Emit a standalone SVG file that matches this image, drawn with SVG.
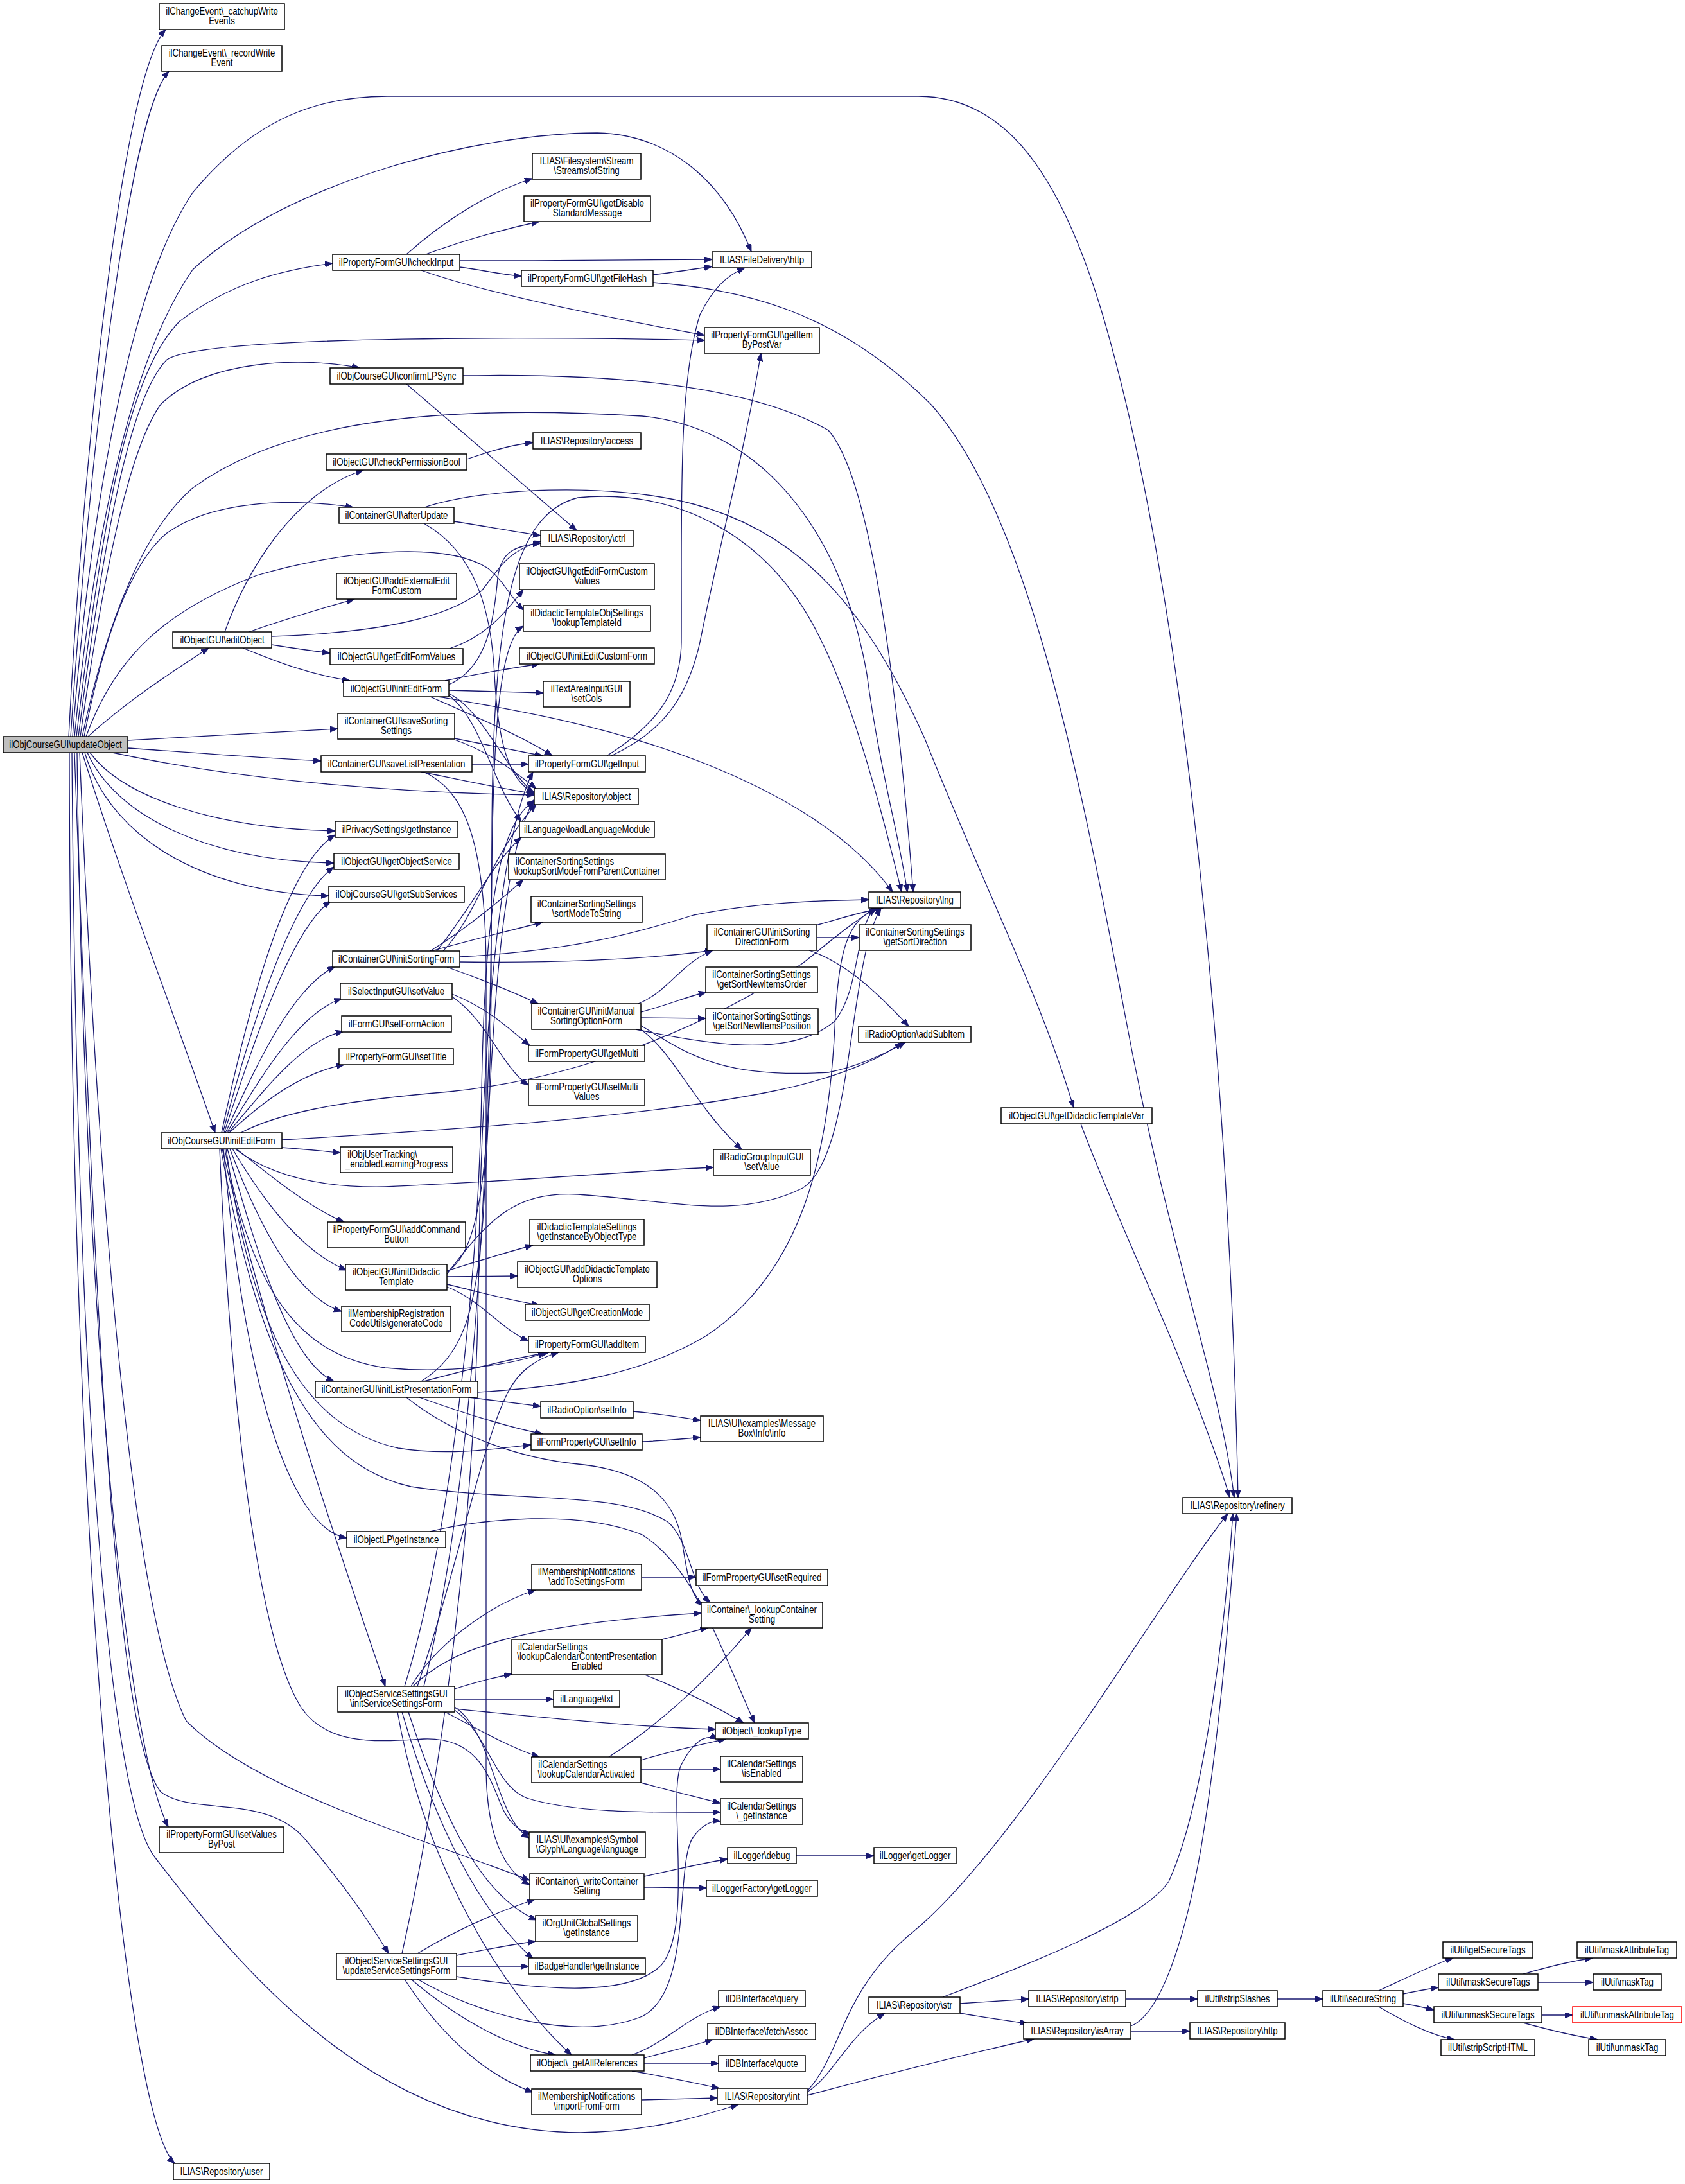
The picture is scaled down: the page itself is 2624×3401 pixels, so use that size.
<svg xmlns="http://www.w3.org/2000/svg" width="2624" height="3401" viewBox="0 0 2624 3401">
<style>
.n rect{fill:#fff;stroke:#000;stroke-width:1.5}
.r rect{fill:#bfbfbf}
.x rect{stroke:#f00}
.n text{font-family:"Liberation Sans",Arial,Helvetica,sans-serif;font-size:16px;fill:#000;text-anchor:middle}
.n text.l{text-anchor:start}
.e path{fill:none;stroke:#191970;stroke-width:1.3;marker-end:url(#a)}
</style>
<defs>
<marker id="a" markerWidth="13" markerHeight="10" refX="12" refY="4.5" orient="auto" markerUnits="userSpaceOnUse"><path d="M0,0 L12,4.5 L0,9 z" fill="#191970" stroke="#191970" stroke-width="1"/></marker>
</defs>
<rect width="2624" height="3401" fill="#fff"/>
<g id="edges" class="e">
<path d="M107,1147 C130,700 190,120 258,46"/>
<path d="M110,1147 C140,700 200,180 263,111"/>
<path d="M113,1147 C140,800 200,450 300,300 C400,180 500,150 603,150 L1430,150 C1560,150 1650,260 1720,500 C1850,950 1915,1700 1928,2332"/>
<path d="M116,1147 C150,800 210,550 300,420 C450,280 750,207 930,207 C1050,210 1130,290 1170,392"/>
<path d="M119,1147 C160,800 200,580 280,500 C360,440 440,420 518,410"/>
<path d="M122,1147 C160,850 200,620 260,560 C320,520 900,525 1097,530"/>
<path d="M125,1147 C160,900 200,700 250,630 C320,560 470,555 560,573"/>
<path d="M128,1147 C170,950 230,820 300,760 C450,650 700,630 1000,648 C1180,665 1310,820 1350,1050 C1370,1200 1400,1300 1413,1389"/>
<path d="M131,1147 C160,1000 200,880 260,830 C330,780 450,775 550,790"/>
<path d="M134,1147 C180,1020 260,950 400,896 C520,860 690,840 760,885 C785,905 795,930 815,950"/>
<path d="M137,1147 C200,1090 270,1045 325,1009"/>
<path d="M199,1153 C300,1148 420,1140 526,1135"/>
<path d="M199,1165 C300,1172 400,1180 500,1185"/>
<path d="M175,1172 C400,1220 650,1235 832,1238"/>
<path d="M140,1172 C190,1240 330,1290 522,1294"/>
<path d="M136,1172 C180,1270 320,1340 520,1344"/>
<path d="M132,1172 C170,1300 310,1390 512,1395"/>
<path d="M128,1172 C200,1400 290,1630 335,1764"/>
<path d="M124,1172 C150,1800 200,2500 290,2680 C400,2790 650,2860 825,2928"/>
<path d="M120,1172 C130,2000 190,2700 262,2845"/>
<path d="M116,1172 C150,2100 180,2700 250,2790 C300,2830 420,2790 480,2870 C540,2940 580,3000 605,3042"/>
<path d="M112,1172 C120,2200 170,2800 241,2892 C400,3100 600,3320 904,3321 C1000,3320 1080,3300 1150,3277"/>
<path d="M108,1172 C110,2500 200,3300 272,3369"/>
<path d="M633,396 C690,345 760,300 829,278"/>
<path d="M663,396 C720,375 780,358 840,345"/>
<path d="M716,406 C850,406 1000,405 1109,404"/>
<path d="M716,416 C750,420 780,428 812,430"/>
<path d="M656,421 C750,455 950,495 1097,522"/>
<path d="M1017,428 C1050,424 1080,419 1109,415"/>
<path d="M1017,440 C1150,450 1300,480 1450,630 C1600,800 1680,1200 1750,1570 C1820,1950 1900,2150 1922,2332"/>
<path d="M721,585 C900,582 1150,590 1290,670 C1360,750 1400,1100 1422,1389"/>
<path d="M633,598 L898,826"/>
<path d="M350,984 C380,900 450,770 566,732"/>
<path d="M388,984 C450,962 500,948 552,933"/>
<path d="M423,1004 C460,1010 490,1014 514,1017"/>
<path d="M378,1009 C430,1030 480,1050 545,1060"/>
<path d="M423,991 C600,985 700,960 750,920 C775,890 785,860 842,843"/>
<path d="M727,715 C770,700 800,692 830,689"/>
<path d="M707,812 C760,820 800,828 842,834"/>
<path d="M661,790 C750,760 950,750 1080,785 C1250,830 1350,950 1440,1150 C1540,1400 1620,1550 1672,1725"/>
<path d="M660,815 C740,860 765,950 770,1050 C775,1150 790,1215 832,1235"/>
<path d="M700,1010 C760,990 790,950 815,918"/>
<path d="M693,1060 C750,1048 800,1040 840,1034"/>
<path d="M699,1075 C750,1076 800,1078 846,1079"/>
<path d="M699,1066 C760,1040 770,960 775,900 C780,860 800,850 842,846"/>
<path d="M699,1080 C740,1100 770,1160 800,1200 C815,1220 825,1230 832,1234"/>
<path d="M699,1083 C750,1120 770,1230 812,1279"/>
<path d="M683,1085 C800,1105 950,1130 1100,1190 C1250,1250 1340,1320 1390,1389"/>
<path d="M670,1085 C750,1120 820,1150 860,1177"/>
<path d="M708,1150 C760,1160 810,1170 845,1177"/>
<path d="M708,1152 C760,1170 800,1200 835,1228"/>
<path d="M735,1190 L823,1190"/>
<path d="M656,1202 C720,1215 780,1228 832,1236"/>
<path d="M660,1202 C720,1230 755,1300 757,1500 L757,2750 C757,2850 780,2910 825,2935"/>
<path d="M945,1177 C1020,1130 1060,1080 1061,1000 C1062,800 1055,600 1090,490 C1110,450 1130,430 1160,417"/>
<path d="M952,1177 C1030,1140 1070,1090 1090,1000 C1120,850 1160,700 1185,550"/>
<path d="M670,1481 C720,1450 770,1410 815,1370"/>
<path d="M672,1481 C740,1462 800,1448 845,1436"/>
<path d="M716,1490 C900,1480 1000,1450 1080,1425 C1180,1405 1280,1402 1353,1401"/>
<path d="M716,1498 C850,1500 1000,1495 1110,1480"/>
<path d="M696,1506 C750,1525 800,1545 838,1563"/>
<path d="M690,1481 C740,1430 770,1320 835,1253"/>
<path d="M680,1481 C730,1420 770,1340 812,1304"/>
<path d="M704,1548 C760,1570 790,1600 825,1628"/>
<path d="M704,1552 C760,1590 780,1660 823,1690"/>
<path d="M998,1576 C1040,1565 1070,1552 1100,1545"/>
<path d="M998,1585 L1099,1586"/>
<path d="M994,1563 C1040,1545 1060,1500 1110,1480"/>
<path d="M990,1603 C1100,1625 1230,1650 1300,1590 C1340,1540 1330,1450 1362,1414"/>
<path d="M998,1597 C1070,1640 1120,1680 1290,1670 C1340,1660 1380,1640 1410,1623"/>
<path d="M998,1603 C1050,1640 1080,1720 1155,1790"/>
<path d="M1270,1441 C1310,1430 1340,1420 1375,1414"/>
<path d="M1272,1460 L1338,1460"/>
<path d="M1260,1480 C1320,1500 1370,1550 1415,1598"/>
<path d="M345,1764 C380,1600 440,1350 522,1300"/>
<path d="M347,1764 C385,1620 450,1400 520,1350"/>
<path d="M349,1764 C390,1640 450,1450 515,1403"/>
<path d="M351,1764 C390,1680 450,1540 522,1505"/>
<path d="M353,1764 C400,1690 460,1580 532,1555"/>
<path d="M355,1764 C410,1700 470,1620 535,1606"/>
<path d="M357,1764 C410,1715 470,1670 536,1658"/>
<path d="M439,1787 C480,1790 505,1793 530,1795"/>
<path d="M368,1789 C420,1830 480,1880 536,1903"/>
<path d="M362,1789 C410,1870 470,1950 540,1978"/>
<path d="M358,1789 C400,1900 460,2020 532,2042"/>
<path d="M354,1789 C400,1950 450,2120 520,2151"/>
<path d="M350,1789 C390,2000 460,2110 600,2130 C700,2140 800,2125 850,2106"/>
<path d="M352,1789 C390,2050 460,2220 620,2255 C700,2268 780,2255 827,2250"/>
<path d="M348,1789 C380,2150 450,2380 540,2395"/>
<path d="M346,1789 C420,2100 540,2450 600,2626"/>
<path d="M344,1789 C400,2100 480,2280 640,2315 C800,2340 960,2320 1040,2370 C1075,2400 1075,2470 1106,2495"/>
<path d="M366,1789 C420,1830 500,1850 600,1848 C800,1840 1000,1822 1111,1818"/>
<path d="M439,1775 C700,1760 1000,1740 1200,1700 C1300,1680 1370,1650 1405,1623"/>
<path d="M375,1764 C430,1735 520,1715 700,1700 C900,1680 1100,1600 1250,1500 C1300,1460 1335,1430 1366,1414"/>
<path d="M342,1789 C360,2200 400,2550 469,2659 C510,2720 590,2712 660,2708 C740,2705 760,2760 780,2810 C790,2835 805,2850 826,2856"/>
<path d="M696,1979 C740,1965 790,1950 830,1939"/>
<path d="M696,1988 L806,1987"/>
<path d="M696,2000 C740,2010 790,2025 840,2032"/>
<path d="M696,2004 C750,2025 780,2070 823,2088"/>
<path d="M696,1980 C750,1950 765,1800 765,1500 C765,1150 775,1000 815,975"/>
<path d="M696,1984 C760,1900 800,1855 900,1860 C1050,1870 1150,1900 1250,1850 C1330,1800 1320,1500 1372,1414"/>
<path d="M660,2151 C720,2135 800,2115 855,2106"/>
<path d="M730,2176 C780,2182 810,2186 842,2190"/>
<path d="M653,2176 C720,2200 790,2222 845,2233"/>
<path d="M633,2176 C700,2230 800,2270 900,2280 C1000,2290 1050,2330 1062,2400 C1070,2450 1075,2485 1094,2500"/>
<path d="M744,2168 C880,2160 1000,2140 1100,2080 C1250,1980 1290,1800 1300,1600 C1305,1480 1320,1430 1368,1414"/>
<path d="M656,2151 C720,2110 740,2050 752,1900 C765,1700 770,1350 832,1245"/>
<path d="M986,2198 C1030,2202 1060,2207 1091,2212"/>
<path d="M1000,2245 C1040,2243 1065,2241 1091,2238"/>
<path d="M670,2385 C750,2365 900,2350 1000,2390 C1080,2440 1120,2560 1175,2683"/>
<path d="M999,2456 L1084,2456"/>
<path d="M708,2630 C740,2620 770,2612 797,2607"/>
<path d="M708,2646 L862,2646"/>
<path d="M708,2661 C850,2675 1000,2690 1114,2693"/>
<path d="M693,2666 C740,2690 790,2720 840,2736"/>
<path d="M708,2663 C760,2700 770,2780 820,2800 C900,2825 1020,2822 1122,2822"/>
<path d="M708,2658 C770,2700 770,2830 824,2862"/>
<path d="M636,2666 C680,2800 740,2950 836,2990"/>
<path d="M626,2666 C680,2850 750,2980 830,3050"/>
<path d="M619,2666 C660,2900 780,3100 890,3200"/>
<path d="M640,2626 C680,2560 760,2500 834,2476"/>
<path d="M643,2626 C700,2570 800,2530 1092,2512"/>
<path d="M630,2626 C700,2400 745,2000 750,1700 C755,1400 780,1280 832,1247"/>
<path d="M650,2626 C710,2450 750,2250 790,2170 C810,2130 840,2115 870,2106"/>
<path d="M660,2626 C740,2300 765,1800 766,1300 C767,950 800,800 900,775 C1050,760 1200,830 1280,1000 C1330,1100 1370,1250 1404,1389"/>
<path d="M650,3042 C720,3000 780,2975 833,2958"/>
<path d="M711,3045 C760,3035 800,3028 834,3023"/>
<path d="M711,3062 L823,3062"/>
<path d="M711,3078 C850,3100 980,3110 1030,3060 C1080,3000 1040,2800 1060,2750 C1080,2710 1100,2700 1118,2708"/>
<path d="M650,3082 C750,3140 900,3180 1000,3140 C1080,3100 1050,2900 1080,2860 C1095,2840 1110,2835 1122,2836"/>
<path d="M640,3082 C720,3150 800,3190 865,3200"/>
<path d="M630,3082 C680,3160 750,3230 830,3258"/>
<path d="M626,3042 C680,2800 740,2400 745,2000 C750,1600 780,1300 830,1202"/>
<path d="M1031,2553 C1060,2546 1080,2540 1102,2535"/>
<path d="M1004,2608 C1060,2630 1120,2660 1158,2683"/>
<path d="M948,2736 C1020,2690 1100,2620 1170,2535"/>
<path d="M998,2741 C1050,2725 1100,2715 1130,2708"/>
<path d="M998,2755 L1122,2755"/>
<path d="M998,2776 C1050,2790 1090,2800 1122,2808"/>
<path d="M1003,2922 C1060,2910 1100,2900 1133,2895"/>
<path d="M1003,2939 L1100,2940"/>
<path d="M1240,2890 L1361,2890"/>
<path d="M984,3200 C1040,3180 1070,3140 1122,3125"/>
<path d="M1003,3205 C1050,3192 1090,3183 1110,3176"/>
<path d="M1003,3213 L1119,3213"/>
<path d="M984,3225 C1040,3235 1090,3245 1120,3252"/>
<path d="M999,3270 L1117,3267"/>
<path d="M1257,3258 C1300,3230 1320,3170 1378,3135"/>
<path d="M1257,3263 C1380,3230 1500,3200 1610,3175"/>
<path d="M1258,3255 C1310,3200 1310,3100 1420,3010 C1580,2880 1800,2500 1912,2357"/>
<path d="M1495,3120 L1602,3113"/>
<path d="M1495,3135 C1540,3143 1580,3148 1600,3151"/>
<path d="M1468,3110 C1600,3060 1780,2990 1820,2930 C1880,2800 1910,2500 1920,2357"/>
<path d="M1761,3163 L1853,3163"/>
<path d="M1761,3155 C1800,3140 1840,3050 1870,2880 C1900,2700 1915,2500 1926,2357"/>
<path d="M1753,3113 L1865,3113"/>
<path d="M1989,3113 L2060,3113"/>
<path d="M2147,3100 C2190,3080 2230,3060 2263,3049"/>
<path d="M2185,3105 C2210,3100 2225,3097 2240,3095"/>
<path d="M2185,3120 C2205,3123 2220,3127 2233,3130"/>
<path d="M2147,3125 C2190,3150 2230,3170 2265,3176"/>
<path d="M2372,3074 C2420,3060 2460,3052 2480,3049"/>
<path d="M2395,3087 L2481,3087"/>
<path d="M2401,3138 L2449,3138"/>
<path d="M2372,3150 C2420,3163 2460,3172 2488,3176"/>
<path d="M1683,1750 C1720,1850 1780,1980 1830,2100 C1870,2200 1900,2280 1915,2332"/>
</g>
<g id="n0" class="n r"><rect x="5" y="1147" width="194" height="25"/><text transform="translate(102,0) scale(.83,1)" y="1165">ilObjCourseGUI\updateObject</text></g>
<g id="n1" class="n"><rect x="248" y="6" width="195" height="40"/><text transform="translate(345.5,0) scale(.83,1)"><tspan x="0" y="23">ilChangeEvent\_catchupWrite</tspan><tspan x="0" y="38">Events</tspan></text></g>
<g id="n2" class="n"><rect x="252" y="71" width="187" height="40"/><text transform="translate(345.5,0) scale(.83,1)"><tspan x="0" y="88">ilChangeEvent\_recordWrite</tspan><tspan x="0" y="103">Event</tspan></text></g>
<g id="n3" class="n"><rect x="1842" y="2332" width="170" height="25"/><text transform="translate(1927,0) scale(.83,1)" y="2350">ILIAS\Repository\refinery</text></g>
<g id="n4" class="n"><rect x="1109" y="392" width="155" height="25"/><text transform="translate(1186.5,0) scale(.83,1)" y="410">ILIAS\FileDelivery\http</text></g>
<g id="n5" class="n"><rect x="518" y="396" width="198" height="25"/><text transform="translate(617,0) scale(.83,1)" y="414">ilPropertyFormGUI\checkInput</text></g>
<g id="n6" class="n"><rect x="829" y="239" width="169" height="40"/><text transform="translate(913.5,0) scale(.83,1)"><tspan x="0" y="256">ILIAS\Filesystem\Stream</tspan><tspan x="0" y="271">\Streams\ofString</tspan></text></g>
<g id="n7" class="n"><rect x="816" y="305" width="197" height="40"/><text transform="translate(914.5,0) scale(.83,1)"><tspan x="0" y="322">ilPropertyFormGUI\getDisable</tspan><tspan x="0" y="337">StandardMessage</tspan></text></g>
<g id="n8" class="n"><rect x="812" y="421" width="205" height="25"/><text transform="translate(914.5,0) scale(.83,1)" y="439">ilPropertyFormGUI\getFileHash</text></g>
<g id="n9" class="n"><rect x="1097" y="510" width="179" height="40"/><text transform="translate(1186.5,0) scale(.83,1)"><tspan x="0" y="527">ilPropertyFormGUI\getItem</tspan><tspan x="0" y="542">ByPostVar</tspan></text></g>
<g id="n10" class="n"><rect x="514" y="573" width="207" height="25"/><text transform="translate(617.5,0) scale(.83,1)" y="591">ilObjCourseGUI\confirmLPSync</text></g>
<g id="n11" class="n"><rect x="1353" y="1389" width="143" height="25"/><text transform="translate(1424.5,0) scale(.83,1)" y="1407">ILIAS\Repository\lng</text></g>
<g id="n12" class="n"><rect x="830" y="674" width="168" height="25"/><text transform="translate(914,0) scale(.83,1)" y="692">ILIAS\Repository\access</text></g>
<g id="n13" class="n"><rect x="508" y="707" width="219" height="25"/><text transform="translate(617.5,0) scale(.83,1)" y="725">ilObjectGUI\checkPermissionBool</text></g>
<g id="n14" class="n"><rect x="528" y="790" width="179" height="25"/><text transform="translate(617.5,0) scale(.83,1)" y="808">ilContainerGUI\afterUpdate</text></g>
<g id="n15" class="n"><rect x="842" y="826" width="144" height="25"/><text transform="translate(914,0) scale(.83,1)" y="844">ILIAS\Repository\ctrl</text></g>
<g id="n16" class="n"><rect x="809" y="878" width="210" height="40"/><text transform="translate(914,0) scale(.83,1)"><tspan x="0" y="895">ilObjectGUI\getEditFormCustom</tspan><tspan x="0" y="910">Values</tspan></text></g>
<g id="n17" class="n"><rect x="524" y="893" width="187" height="40"/><text transform="translate(617.5,0) scale(.83,1)"><tspan x="0" y="910">ilObjectGUI\addExternalEdit</tspan><tspan x="0" y="925">FormCustom</tspan></text></g>
<g id="n18" class="n"><rect x="815" y="943" width="198" height="40"/><text transform="translate(914,0) scale(.83,1)"><tspan x="0" y="960">ilDidacticTemplateObjSettings</tspan><tspan x="0" y="975">\lookupTemplateId</tspan></text></g>
<g id="n19" class="n"><rect x="269" y="984" width="154" height="25"/><text transform="translate(346,0) scale(.83,1)" y="1002">ilObjectGUI\editObject</text></g>
<g id="n20" class="n"><rect x="514" y="1010" width="207" height="25"/><text transform="translate(617.5,0) scale(.83,1)" y="1028">ilObjectGUI\getEditFormValues</text></g>
<g id="n21" class="n"><rect x="809" y="1009" width="210" height="25"/><text transform="translate(914,0) scale(.83,1)" y="1027">ilObjectGUI\initEditCustomForm</text></g>
<g id="n22" class="n"><rect x="535" y="1060" width="164" height="25"/><text transform="translate(617,0) scale(.83,1)" y="1078">ilObjectGUI\initEditForm</text></g>
<g id="n23" class="n"><rect x="846" y="1061" width="135" height="40"/><text transform="translate(913.5,0) scale(.83,1)"><tspan x="0" y="1078">ilTextAreaInputGUI</tspan><tspan x="0" y="1093">\setCols</tspan></text></g>
<g id="n24" class="n"><rect x="526" y="1111" width="182" height="40"/><text transform="translate(617,0) scale(.83,1)"><tspan x="0" y="1128">ilContainerGUI\saveSorting</tspan><tspan x="0" y="1143">Settings</tspan></text></g>
<g id="n25" class="n"><rect x="500" y="1177" width="235" height="25"/><text transform="translate(617.5,0) scale(.83,1)" y="1195">ilContainerGUI\saveListPresentation</text></g>
<g id="n26" class="n"><rect x="823" y="1177" width="182" height="25"/><text transform="translate(914,0) scale(.83,1)" y="1195">ilPropertyFormGUI\getInput</text></g>
<g id="n27" class="n"><rect x="832" y="1228" width="162" height="25"/><text transform="translate(913,0) scale(.83,1)" y="1246">ILIAS\Repository\object</text></g>
<g id="n28" class="n"><rect x="522" y="1279" width="191" height="25"/><text transform="translate(617.5,0) scale(.83,1)" y="1297">ilPrivacySettings\getInstance</text></g>
<g id="n29" class="n"><rect x="809" y="1279" width="210" height="25"/><text transform="translate(914,0) scale(.83,1)" y="1297">ilLanguage\loadLanguageModule</text></g>
<g id="n30" class="n"><rect x="520" y="1329" width="195" height="25"/><text transform="translate(617.5,0) scale(.83,1)" y="1347">ilObjectGUI\getObjectService</text></g>
<g id="n31" class="n"><rect x="792" y="1330" width="244" height="40"/><text class="l" transform="translate(914,0) scale(.83,1)" x="-134" y="1347">ilContainerSortingSettings</text><text transform="translate(914,0) scale(.83,1)" y="1362">\lookupSortModeFromParentContainer</text></g>
<g id="n32" class="n"><rect x="512" y="1380" width="211" height="25"/><text transform="translate(617.5,0) scale(.83,1)" y="1398">ilObjCourseGUI\getSubServices</text></g>
<g id="n33" class="n"><rect x="827" y="1396" width="173" height="40"/><text transform="translate(913.5,0) scale(.83,1)"><tspan x="0" y="1413">ilContainerSortingSettings</tspan><tspan x="0" y="1428">\sortModeToString</tspan></text></g>
<g id="n34" class="n"><rect x="518" y="1481" width="198" height="25"/><text transform="translate(617,0) scale(.83,1)" y="1499">ilContainerGUI\initSortingForm</text></g>
<g id="n35" class="n"><rect x="1101" y="1440" width="171" height="40"/><text transform="translate(1186.5,0) scale(.83,1)"><tspan x="0" y="1457">ilContainerGUI\initSorting</tspan><tspan x="0" y="1472">DirectionForm</tspan></text></g>
<g id="n36" class="n"><rect x="1338" y="1440" width="174" height="40"/><text transform="translate(1425,0) scale(.83,1)"><tspan x="0" y="1457">ilContainerSortingSettings</tspan><tspan x="0" y="1472">\getSortDirection</tspan></text></g>
<g id="n37" class="n"><rect x="1099" y="1506" width="174" height="40"/><text transform="translate(1186,0) scale(.83,1)"><tspan x="0" y="1523">ilContainerSortingSettings</tspan><tspan x="0" y="1538">\getSortNewItemsOrder</tspan></text></g>
<g id="n38" class="n"><rect x="530" y="1531" width="174" height="25"/><text transform="translate(617,0) scale(.83,1)" y="1549">ilSelectInputGUI\setValue</text></g>
<g id="n39" class="n"><rect x="828" y="1563" width="170" height="40"/><text transform="translate(913,0) scale(.83,1)"><tspan x="0" y="1580">ilContainerGUI\initManual</tspan><tspan x="0" y="1595">SortingOptionForm</tspan></text></g>
<g id="n40" class="n"><rect x="1099" y="1571" width="175" height="40"/><text transform="translate(1186.5,0) scale(.83,1)"><tspan x="0" y="1588">ilContainerSortingSettings</tspan><tspan x="0" y="1603">\getSortNewItemsPosition</tspan></text></g>
<g id="n41" class="n"><rect x="532" y="1582" width="171" height="25"/><text transform="translate(617.5,0) scale(.83,1)" y="1600">ilFormGUI\setFormAction</text></g>
<g id="n42" class="n"><rect x="1337" y="1598" width="175" height="25"/><text transform="translate(1424.5,0) scale(.83,1)" y="1616">ilRadioOption\addSubItem</text></g>
<g id="n43" class="n"><rect x="823" y="1628" width="181" height="25"/><text transform="translate(913.5,0) scale(.83,1)" y="1646">ilFormPropertyGUI\getMulti</text></g>
<g id="n44" class="n"><rect x="528" y="1633" width="178" height="25"/><text transform="translate(617,0) scale(.83,1)" y="1651">ilPropertyFormGUI\setTitle</text></g>
<g id="n45" class="n"><rect x="823" y="1681" width="181" height="40"/><text transform="translate(913.5,0) scale(.83,1)"><tspan x="0" y="1698">ilFormPropertyGUI\setMulti</tspan><tspan x="0" y="1713">Values</tspan></text></g>
<g id="n46" class="n"><rect x="1559" y="1725" width="235" height="25"/><text transform="translate(1676.5,0) scale(.83,1)" y="1743">ilObjectGUI\getDidacticTemplateVar</text></g>
<g id="n47" class="n"><rect x="251" y="1764" width="188" height="25"/><text transform="translate(345,0) scale(.83,1)" y="1782">ilObjCourseGUI\initEditForm</text></g>
<g id="n48" class="n"><rect x="530" y="1786" width="175" height="40"/><text class="l" transform="translate(617.5,0) scale(.83,1)" x="-92" y="1803">ilObjUserTracking\</text><text transform="translate(617.5,0) scale(.83,1)" y="1818">_enabledLearningProgress</text></g>
<g id="n49" class="n"><rect x="1111" y="1790" width="151" height="40"/><text transform="translate(1186.5,0) scale(.83,1)"><tspan x="0" y="1807">ilRadioGroupInputGUI</tspan><tspan x="0" y="1822">\setValue</tspan></text></g>
<g id="n50" class="n"><rect x="825" y="1899" width="178" height="40"/><text transform="translate(914,0) scale(.83,1)"><tspan x="0" y="1916">ilDidacticTemplateSettings</tspan><tspan x="0" y="1931">\getInstanceByObjectType</tspan></text></g>
<g id="n51" class="n"><rect x="510" y="1903" width="215" height="40"/><text transform="translate(617.5,0) scale(.83,1)"><tspan x="0" y="1920">ilPropertyFormGUI\addCommand</tspan><tspan x="0" y="1935">Button</tspan></text></g>
<g id="n52" class="n"><rect x="806" y="1965" width="217" height="40"/><text transform="translate(914.5,0) scale(.83,1)"><tspan x="0" y="1982">ilObjectGUI\addDidacticTemplate</tspan><tspan x="0" y="1997">Options</tspan></text></g>
<g id="n53" class="n"><rect x="538" y="1969" width="158" height="40"/><text transform="translate(617,0) scale(.83,1)"><tspan x="0" y="1986">ilObjectGUI\initDidactic</tspan><tspan x="0" y="2001">Template</tspan></text></g>
<g id="n54" class="n"><rect x="818" y="2031" width="193" height="25"/><text transform="translate(914.5,0) scale(.83,1)" y="2049">ilObjectGUI\getCreationMode</text></g>
<g id="n55" class="n"><rect x="532" y="2034" width="170" height="40"/><text transform="translate(617,0) scale(.83,1)"><tspan x="0" y="2051">ilMembershipRegistration</tspan><tspan x="0" y="2066">CodeUtils\generateCode</tspan></text></g>
<g id="n56" class="n"><rect x="823" y="2081" width="182" height="25"/><text transform="translate(914,0) scale(.83,1)" y="2099">ilPropertyFormGUI\addItem</text></g>
<g id="n57" class="n"><rect x="491" y="2151" width="253" height="25"/><text transform="translate(617.5,0) scale(.83,1)" y="2169">ilContainerGUI\initListPresentationForm</text></g>
<g id="n58" class="n"><rect x="842" y="2183" width="144" height="25"/><text transform="translate(914,0) scale(.83,1)" y="2201">ilRadioOption\setInfo</text></g>
<g id="n59" class="n"><rect x="1091" y="2205" width="191" height="40"/><text transform="translate(1186.5,0) scale(.83,1)"><tspan x="0" y="2222">ILIAS\UI\examples\Message</tspan><tspan x="0" y="2237">Box\Info\info</tspan></text></g>
<g id="n60" class="n"><rect x="827" y="2233" width="173" height="25"/><text transform="translate(913.5,0) scale(.83,1)" y="2251">ilFormPropertyGUI\setInfo</text></g>
<g id="n61" class="n"><rect x="540" y="2385" width="154" height="25"/><text transform="translate(617,0) scale(.83,1)" y="2403">ilObjectLP\getInstance</text></g>
<g id="n62" class="n"><rect x="828" y="2436" width="171" height="40"/><text transform="translate(913.5,0) scale(.83,1)"><tspan x="0" y="2453">ilMembershipNotifications</tspan><tspan x="0" y="2468">\addToSettingsForm</tspan></text></g>
<g id="n63" class="n"><rect x="1084" y="2444" width="205" height="25"/><text transform="translate(1186.5,0) scale(.83,1)" y="2462">ilFormPropertyGUI\setRequired</text></g>
<g id="n64" class="n"><rect x="1092" y="2495" width="189" height="40"/><text transform="translate(1186.5,0) scale(.83,1)"><tspan x="0" y="2512">ilContainer\_lookupContainer</tspan><tspan x="0" y="2527">Setting</tspan></text></g>
<g id="n65" class="n"><rect x="797" y="2553" width="234" height="55"/><text class="l" transform="translate(914,0) scale(.83,1)" x="-129" y="2570">ilCalendarSettings</text><text transform="translate(914,0) scale(.83,1)"><tspan x="0" y="2585">\lookupCalendarContentPresentation</tspan><tspan x="0" y="2600">Enabled</tspan></text></g>
<g id="n66" class="n"><rect x="526" y="2626" width="182" height="40"/><text transform="translate(617,0) scale(.83,1)"><tspan x="0" y="2643">ilObjectServiceSettingsGUI</tspan><tspan x="0" y="2658">\initServiceSettingsForm</tspan></text></g>
<g id="n67" class="n"><rect x="862" y="2633" width="103" height="25"/><text transform="translate(913.5,0) scale(.83,1)" y="2651">ilLanguage\txt</text></g>
<g id="n68" class="n"><rect x="1114" y="2683" width="145" height="25"/><text transform="translate(1186.5,0) scale(.83,1)" y="2701">ilObject\_lookupType</text></g>
<g id="n69" class="n"><rect x="828" y="2736" width="170" height="40"/><text class="l" transform="translate(913,0) scale(.83,1)" x="-90" y="2753">ilCalendarSettings</text><text transform="translate(913,0) scale(.83,1)" y="2768">\lookupCalendarActivated</text></g>
<g id="n70" class="n"><rect x="1122" y="2735" width="128" height="40"/><text transform="translate(1186,0) scale(.83,1)"><tspan x="0" y="2752">ilCalendarSettings</tspan><tspan x="0" y="2767">\isEnabled</tspan></text></g>
<g id="n71" class="n"><rect x="1122" y="2801" width="128" height="40"/><text transform="translate(1186,0) scale(.83,1)"><tspan x="0" y="2818">ilCalendarSettings</tspan><tspan x="0" y="2833">\_getInstance</tspan></text></g>
<g id="n72" class="n"><rect x="248" y="2845" width="194" height="40"/><text transform="translate(345,0) scale(.83,1)"><tspan x="0" y="2862">ilPropertyFormGUI\setValues</tspan><tspan x="0" y="2877">ByPost</tspan></text></g>
<g id="n73" class="n"><rect x="824" y="2853" width="181" height="40"/><text transform="translate(914.5,0) scale(.83,1)"><tspan x="0" y="2870">ILIAS\UI\examples\Symbol</tspan><tspan x="0" y="2885">\Glyph\Language\language</tspan></text></g>
<g id="n74" class="n"><rect x="1133" y="2877" width="107" height="25"/><text transform="translate(1186.5,0) scale(.83,1)" y="2895">ilLogger\debug</text></g>
<g id="n75" class="n"><rect x="1361" y="2877" width="128" height="25"/><text transform="translate(1425,0) scale(.83,1)" y="2895">ilLogger\getLogger</text></g>
<g id="n76" class="n"><rect x="825" y="2918" width="178" height="40"/><text transform="translate(914,0) scale(.83,1)"><tspan x="0" y="2935">ilContainer\_writeContainer</tspan><tspan x="0" y="2950">Setting</tspan></text></g>
<g id="n77" class="n"><rect x="1100" y="2928" width="173" height="25"/><text transform="translate(1186.5,0) scale(.83,1)" y="2946">ilLoggerFactory\getLogger</text></g>
<g id="n78" class="n"><rect x="834" y="2983" width="159" height="40"/><text transform="translate(913.5,0) scale(.83,1)"><tspan x="0" y="3000">ilOrgUnitGlobalSettings</tspan><tspan x="0" y="3015">\getInstance</tspan></text></g>
<g id="n79" class="n"><rect x="524" y="3042" width="187" height="40"/><text transform="translate(617.5,0) scale(.83,1)"><tspan x="0" y="3059">ilObjectServiceSettingsGUI</tspan><tspan x="0" y="3074">\updateServiceSettingsForm</tspan></text></g>
<g id="n80" class="n"><rect x="823" y="3049" width="182" height="25"/><text transform="translate(914,0) scale(.83,1)" y="3067">ilBadgeHandler\getInstance</text></g>
<g id="n81" class="n"><rect x="1119" y="3100" width="135" height="25"/><text transform="translate(1186.5,0) scale(.83,1)" y="3118">ilDBInterface\query</text></g>
<g id="n82" class="n"><rect x="1353" y="3110" width="142" height="25"/><text transform="translate(1424,0) scale(.83,1)" y="3128">ILIAS\Repository\str</text></g>
<g id="n83" class="n"><rect x="1602" y="3100" width="151" height="25"/><text transform="translate(1677.5,0) scale(.83,1)" y="3118">ILIAS\Repository\strip</text></g>
<g id="n84" class="n"><rect x="1865" y="3100" width="124" height="25"/><text transform="translate(1927,0) scale(.83,1)" y="3118">ilUtil\stripSlashes</text></g>
<g id="n85" class="n"><rect x="2060" y="3100" width="125" height="25"/><text transform="translate(2122.5,0) scale(.83,1)" y="3118">ilUtil\secureString</text></g>
<g id="n86" class="n"><rect x="1102" y="3151" width="168" height="25"/><text transform="translate(1186,0) scale(.83,1)" y="3169">ilDBInterface\fetchAssoc</text></g>
<g id="n87" class="n"><rect x="1594" y="3150" width="167" height="25"/><text transform="translate(1677.5,0) scale(.83,1)" y="3168">ILIAS\Repository\isArray</text></g>
<g id="n88" class="n"><rect x="1853" y="3150" width="148" height="25"/><text transform="translate(1927,0) scale(.83,1)" y="3168">ILIAS\Repository\http</text></g>
<g id="n89" class="n"><rect x="826" y="3200" width="177" height="25"/><text transform="translate(914.5,0) scale(.83,1)" y="3218">ilObject\_getAllReferences</text></g>
<g id="n90" class="n"><rect x="1119" y="3201" width="135" height="25"/><text transform="translate(1186.5,0) scale(.83,1)" y="3219">ilDBInterface\quote</text></g>
<g id="n91" class="n"><rect x="1117" y="3252" width="140" height="25"/><text transform="translate(1187,0) scale(.83,1)" y="3270">ILIAS\Repository\int</text></g>
<g id="n92" class="n"><rect x="828" y="3253" width="171" height="40"/><text transform="translate(913.5,0) scale(.83,1)"><tspan x="0" y="3270">ilMembershipNotifications</tspan><tspan x="0" y="3285">\importFromForm</tspan></text></g>
<g id="n93" class="n"><rect x="270" y="3369" width="150" height="25"/><text transform="translate(345,0) scale(.83,1)" y="3387">ILIAS\Repository\user</text></g>
<g id="n94" class="n"><rect x="2247" y="3024" width="140" height="25"/><text transform="translate(2317,0) scale(.83,1)" y="3042">ilUtil\getSecureTags</text></g>
<g id="n95" class="n"><rect x="2240" y="3074" width="155" height="25"/><text transform="translate(2317.5,0) scale(.83,1)" y="3092">ilUtil\maskSecureTags</text></g>
<g id="n96" class="n"><rect x="2233" y="3125" width="168" height="25"/><text transform="translate(2317,0) scale(.83,1)" y="3143">ilUtil\unmaskSecureTags</text></g>
<g id="n97" class="n"><rect x="2244" y="3176" width="146" height="25"/><text transform="translate(2317,0) scale(.83,1)" y="3194">ilUtil\stripScriptHTML</text></g>
<g id="n98" class="n"><rect x="2456" y="3024" width="155" height="25"/><text transform="translate(2533.5,0) scale(.83,1)" y="3042">ilUtil\maskAttributeTag</text></g>
<g id="n99" class="n"><rect x="2481" y="3074" width="106" height="25"/><text transform="translate(2534,0) scale(.83,1)" y="3092">ilUtil\maskTag</text></g>
<g id="n100" class="n x"><rect x="2449" y="3125" width="170" height="25"/><text transform="translate(2534,0) scale(.83,1)" y="3143">ilUtil\unmaskAttributeTag</text></g>
<g id="n101" class="n"><rect x="2474" y="3176" width="120" height="25"/><text transform="translate(2534,0) scale(.83,1)" y="3194">ilUtil\unmaskTag</text></g>
</svg>
